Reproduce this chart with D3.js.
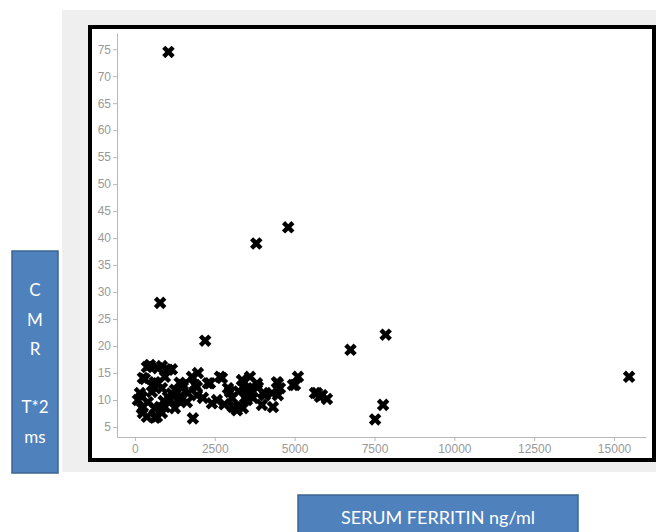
<!DOCTYPE html>
<html>
<head>
<meta charset="utf-8">
<script src="https://cdn.jsdelivr.net/npm/d3@7"></script>
<style>
  body { margin: 0; background: #fff; }
  .tick text { font-family: "Liberation Sans", Arial, sans-serif; font-size: 12px; fill: #999; }
  .axis path, .axis line { stroke: #b8b8b8; }
</style>
</head>
<body>
<div id="chart"></div>
<script>
// serum ferritin (ng/ml) vs CMR T*2 (ms)
var ferritin = [1050, 790, 2200, 3800, 4800, 6750, 7850, 15470, 7770, 7520,
  470, 313, 846, 1159, 720, 219, 250, 626, 783, 1096, 1409, 1503, 1785, 1879, 2130, 1816,
  2286, 2725, 2411, 2568, 2975, 3132, 3382, 3602, 3508, 3821, 4009, 4322, 4478, 4291,
  4948, 5105, 5700, 6013, 5857,
  376, 720, 1033, 250, 940, 626, 1503, 1942, 157, 532, 846, 1253, 1660, 1942, 94, 407,
  1033, 1347, 1628, 219, 626, 940, 1253, 376, 689, 846,
  1973, 2349, 2662, 2913, 3038, 3069, 3195, 3351, 3508, 3445, 3382, 3696, 3852, 4071,
  3977, 4447, 4541, 4478, 5011, 5637, 5794,
  1150, 900, 560, 1400, 3250, 3600, 2800];
var t2 = [74.5, 28, 21, 39, 42, 19.3, 22.1, 14.3, 9.1, 6.4,
  16.5, 13.9, 16.3, 15.7, 13.1, 10.6, 7.6, 6.7, 8.7, 10, 10.6, 12.4, 14.3, 12.8, 10.4, 6.6,
  13.1, 14.1, 9.4, 10, 11.5, 8.7, 12.4, 14.3, 10, 13.1, 11.3, 8.7, 13.1, 11.3,
  12.8, 14.3, 11.3, 10.2, 10.9,
  16.1, 15.9, 15.6, 14.1, 14.3, 13.3, 12.8, 12.4, 11.3, 11.5, 12.2, 11.9, 11.3, 10.9, 10, 9.6,
  10.6, 10, 9.6, 8.5, 8.5, 8.7, 8.5, 6.9, 6.9, 7.6,
  15, 13.1, 14.3, 12.2, 10.4, 8.7, 8.1, 13.7, 12.2, 10.4, 8.5, 10.4, 12.4, 10.9,
  9.1, 13.3, 12.2, 10.9, 12.8, 11.3, 10.6,
  11.2, 9.8, 12.6, 13.2, 11.6, 11.8, 9.2];

var xTicks = [0, 2500, 5000, 7500, 10000, 12500, 15000];
var yTicks = [5, 10, 15, 20, 25, 30, 35, 40, 45, 50, 55, 60, 65, 70, 75];

var width = 656, height = 532;

var svg = d3.select("#chart").append("svg")
  .attr("width", width)
  .attr("height", height);

// grey panel behind the plot
svg.append("rect")
  .attr("x", 62).attr("y", 10)
  .attr("width", width - 62).attr("height", 462)
  .attr("fill", "#efefef");

// white plot area with heavy black frame
svg.append("rect")
  .attr("x", 90).attr("y", 27)
  .attr("width", 564).attr("height", 433)
  .attr("fill", "#fff")
  .attr("stroke", "#000")
  .attr("stroke-width", 4);

var x = d3.scaleLinear().domain([-560, 16000]).range([117, 646]);
var y = d3.scaleLinear().domain([3.15, 78]).range([437, 33]);

svg.append("g")
  .attr("class", "axis")
  .attr("transform", "translate(0," + 437 + ")")
  .call(d3.axisBottom(x).tickValues(xTicks).tickFormat(d3.format("d"))
    .tickSize(4).tickPadding(3).tickSizeOuter(0));

svg.append("g")
  .attr("class", "axis")
  .attr("transform", "translate(" + 117 + ",0)")
  .call(d3.axisLeft(y).tickValues(yTicks).tickSize(4).tickPadding(2).tickSizeOuter(0));

// bold x markers
var marker = d3.symbol().type(d3.symbolCross).size(98);
svg.append("g").selectAll("path")
  .data(ferritin)
  .join("path")
    .attr("d", marker)
    .attr("fill", "#000")
    .attr("transform", function(d, i) {
      return "translate(" + x(d) + "," + y(t2[i]) + ") rotate(45)";
    });

// y label box
var yBox = svg.append("g");
yBox.append("rect")
  .attr("x", 12).attr("y", 251)
  .attr("width", 46).attr("height", 222)
  .attr("fill", "#4f81bd")
  .attr("stroke", "#3b6593")
  .attr("stroke-width", 1.5);
var yLines = [["C", 290], ["M", 320], ["R", 349], ["T*2", 407], ["ms", 437]];
yBox.selectAll("text")
  .data(yLines)
  .join("text")
    .attr("x", 35)
    .attr("y", function(d) { return d[1]; })
    .attr("dy", "0.35em")
    .attr("text-anchor", "middle")
    .attr("font-family", "Lato, 'Open Sans', sans-serif")
    .attr("font-size", 17)
    .attr("fill", "#fff")
    .text(function(d) { return d[0]; });

// x label box
svg.append("rect")
  .attr("x", 298).attr("y", 495)
  .attr("width", 280).attr("height", 50)
  .attr("fill", "#4f81bd")
  .attr("stroke", "#3b6593")
  .attr("stroke-width", 1.5);
svg.append("text")
  .attr("x", 438).attr("y", 518)
  .attr("dy", "0.35em")
  .attr("text-anchor", "middle")
  .attr("font-family", "Lato, 'Open Sans', sans-serif")
  .attr("font-size", 18)
  .attr("fill", "#fff")
  .text("SERUM FERRITIN ng/ml");
</script>
</body>
</html>
